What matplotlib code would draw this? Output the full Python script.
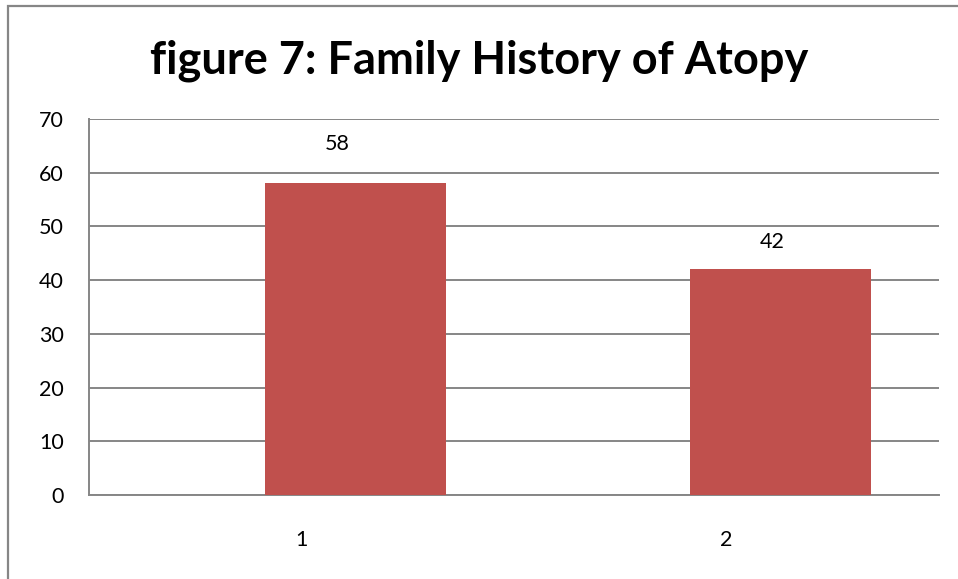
import matplotlib
matplotlib.use("Agg")
import matplotlib.pyplot as plt
from matplotlib.patches import Rectangle

categories = ["1", "2"]
values = [58, 42]
yticks = [0, 10, 20, 30, 40, 50, 60, 70]
title = "figure 7: Family History of Atopy"

plt.rcParams['font.family'] = ['Lato', 'DejaVu Sans']

W, H = 958, 579
fig = plt.figure(figsize=(W / 100, H / 100), dpi=100)
fig.patch.set_facecolor("white")

# outer chart border (extends beyond right/bottom edges)
fig.add_artist(Rectangle((8 / W, -0.1), 1.2, (H - 6) / H + 0.1, transform=fig.transFigure,
                         fill=False, edgecolor="#868686", linewidth=1.6))

ax = fig.add_axes([89 / W, (H - 495) / H, (939 - 89) / W, (495 - 119) / H])
pos = list(range(1, len(categories) + 1))
bar_shift = 0.126
bar_w = 0.426
ax.bar([p + bar_shift for p in pos], values, width=bar_w, color="#C0504D", zorder=3)

ax.set_xlim(0.5, len(categories) + 0.5)
ax.set_ylim(0, 70)
ax.set_yticks(yticks)
ax.set_xticks(pos)
ax.set_xticklabels(categories)
ax.tick_params(axis="both", length=0, labelsize=15.5, colors="black")
ax.tick_params(axis="y", pad=18)
ax.tick_params(axis="x", pad=25)
ax.grid(axis="y", color="#868686", linewidth=1.4, zorder=0)
for s in ["top", "right"]:
    ax.spines[s].set_visible(False)
for s in ["left", "bottom"]:
    ax.spines[s].set_color("#868686")
    ax.spines[s].set_linewidth(1.4)

label_offsets = [(-13, 21.5), (-6, 12.5)]
for p, v, off in zip(pos, values, label_offsets):
    ax.annotate(str(v), (p + bar_shift, v), xytext=off, textcoords="offset points",
                ha="center", va="bottom", fontsize=15.5)

fig.text((153 + 806) / 2 / W, 1 - 61 / H, title, ha="center", va="center",
         fontsize=32.5, fontweight="bold")

fig.savefig("out.png", dpi=100)
